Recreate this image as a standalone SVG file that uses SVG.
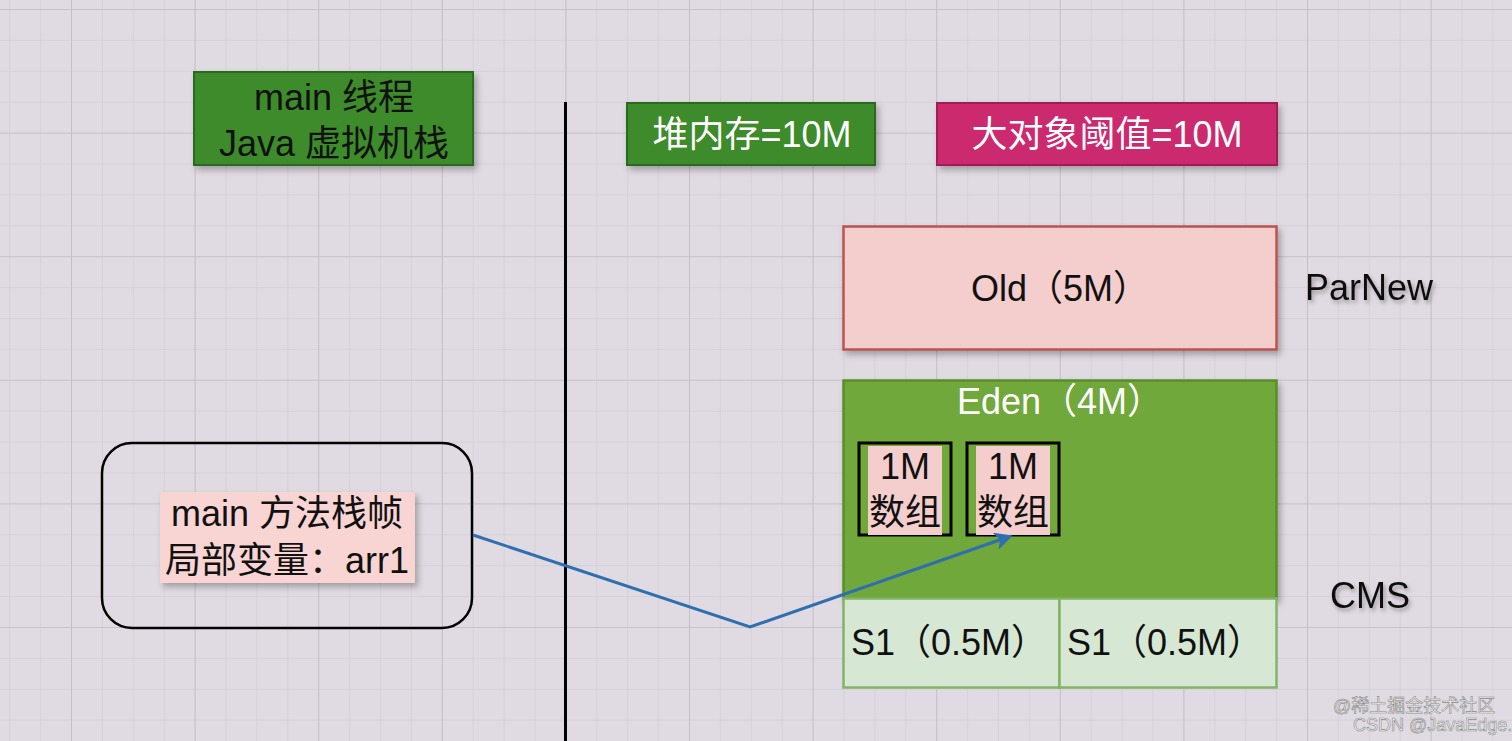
<svg xmlns="http://www.w3.org/2000/svg" width="1512" height="741" viewBox="0 0 1512 741">
<defs>
<pattern id="minor" patternUnits="userSpaceOnUse" x="71" y="9" width="30.9" height="30.9">
<path d="M0 0H30.9M0 0V30.9" fill="none" stroke="#cdc8cf" stroke-width="1"/>
</pattern>
<pattern id="major" patternUnits="userSpaceOnUse" x="71" y="9" width="123.6" height="123.6">
<path d="M0 0H123.6M0 0V123.6" fill="none" stroke="#b9b4bc" stroke-width="1.2"/>
</pattern>
<filter id="sh" x="-10%" y="-10%" width="130%" height="140%">
<feDropShadow dx="3" dy="4" stdDeviation="3" flood-color="#000" flood-opacity="0.28"/>
</filter>
<filter id="tsh" x="-10%" y="-10%" width="130%" height="150%">
<feDropShadow dx="2" dy="3" stdDeviation="2" flood-color="#000" flood-opacity="0.3"/>
</filter>
<marker id="arr" viewBox="0 0 10 10" refX="9" refY="5" markerWidth="6" markerHeight="6" markerUnits="strokeWidth" orient="auto">
<path d="M0 0L10 5L0 10L2.5 5Z" fill="#2f6fb0"/>
</marker>
</defs>
<style>
text{font-family:"Liberation Sans","Noto Sans CJK SC",sans-serif;font-size:36px}
.c{text-anchor:middle}
.w{fill:#ffffff}
.k{fill:#111111}
.wm{font-size:18px;fill:#f2f2f2;stroke:#8a8a8a;stroke-width:0.6}
</style>
<rect width="1512" height="741" fill="#e0dbe2"/>
<rect width="1512" height="741" fill="url(#minor)"/>
<rect width="1512" height="741" fill="url(#major)"/>

<line x1="565.5" y1="102" x2="565.5" y2="741" stroke="#000" stroke-width="3"/>

<g id="thread">
<rect x="194" y="72" width="279" height="93" fill="#3e8b2a" stroke="#2c6a1d" stroke-width="2" filter="url(#sh)"/>
<text class="c k" x="334" y="110">main 线程</text>
<text class="c k" x="334" y="156">Java 虚拟机栈</text>
</g>

<g id="heap">
<rect x="627" y="103" width="248" height="62" fill="#3e8b2a" stroke="#2c6a1d" stroke-width="2" filter="url(#sh)"/>
<text class="c w" x="752" y="147">堆内存=10M</text>
</g>

<g id="threshold">
<rect x="937" y="103" width="340" height="62" fill="#cc2b6e" stroke="#a01d52" stroke-width="2" filter="url(#sh)"/>
<text class="c w" x="1107" y="147">大对象阈值=10M</text>
</g>

<g id="old">
<rect x="843.5" y="226.5" width="433" height="123" fill="#f4cdcd" stroke="#b85450" stroke-width="2.5" filter="url(#sh)"/>
<text class="c k" x="1060" y="301">Old（5M）</text>
</g>

<g id="parnew"><text class="k" x="1305" y="300" filter="url(#tsh)">ParNew</text></g>
<g id="cms"><text class="k" x="1330" y="608" filter="url(#tsh)">CMS</text></g>

<g id="eden">
<rect x="843.5" y="380.5" width="433" height="218" fill="#70a83a" stroke="#5a8d2c" stroke-width="2.5" filter="url(#sh)"/>
<text class="c w" x="1060" y="414">Eden（4M）</text>
</g>

<g id="arr1box">
<rect x="859" y="443" width="92" height="92" fill="none" stroke="#000" stroke-width="3"/>
<rect x="868" y="446" width="74" height="89" fill="#f4cdcd"/>
<text class="c k" x="905" y="479">1M</text>
<text class="c k" x="905" y="525">数组</text>
</g>

<g id="arr2box">
<rect x="967" y="443" width="92" height="92" fill="none" stroke="#000" stroke-width="3"/>
<rect x="976" y="446" width="74" height="89" fill="#f4cdcd"/>
<text class="c k" x="1013" y="479">1M</text>
<text class="c k" x="1013" y="525">数组</text>
</g>

<g id="s1a">
<rect x="843.5" y="598.5" width="216" height="89" fill="#d6e8d3" stroke="#82b366" stroke-width="2.5"/>
<text class="k" x="851" y="655">S1（0.5M）</text>
</g>
<g id="s1b">
<rect x="1059.5" y="598.5" width="217" height="89" fill="#d6e8d3" stroke="#82b366" stroke-width="2.5"/>
<text class="k" x="1067" y="655">S1（0.5M）</text>
</g>

<g id="frame">
<rect x="102" y="443" width="370" height="185" rx="30" ry="30" fill="none" stroke="#000" stroke-width="2.5"/>
<rect x="160" y="492" width="255" height="91" fill="#f8d5d3" filter="url(#sh)"/>
<text class="c k" x="287" y="526">main 方法栈帧</text>
<text class="c k" x="287" y="573">局部变量：arr1</text>
</g>

<g id="connectors">
<polyline points="473,535 750,627 1011,536" fill="none" stroke="#2f6fb0" stroke-width="3" marker-end="url(#arr)"/>
</g>

<g id="watermark">
<text class="wm" x="1333" y="712">@稀土掘金技术社区</text>
<text class="wm" x="1353" y="731">CSDN @JavaEdge.</text>
</g>
</svg>
